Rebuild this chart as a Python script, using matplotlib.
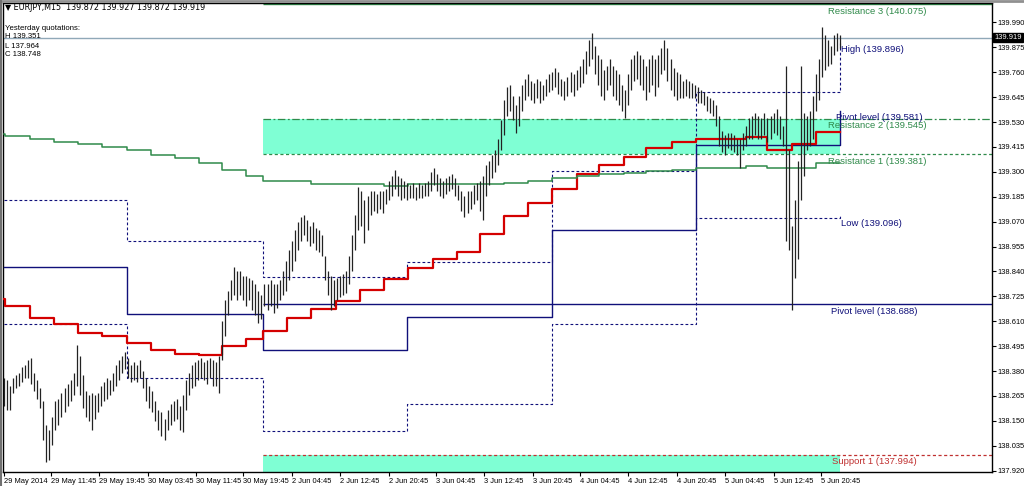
import numpy as np
import matplotlib.pyplot as plt
from matplotlib.transforms import blended_transform_factory

plt.rcParams['font.family'] = ['Liberation Sans', 'DejaVu Sans']

# 30-minute bars, EURJPY (high / low)
bar_high = [
    138.35, 138.34, 138.31, 138.35, 138.36, 138.37, 138.40, 138.41, 138.43, 138.44,
    138.37, 138.34, 138.30, 138.24, 138.13, 138.11, 138.17, 138.24, 138.25, 138.28,
    138.30, 138.32, 138.34, 138.37, 138.50, 138.45, 138.36, 138.29, 138.27, 138.28,
    138.27, 138.28, 138.31, 138.33, 138.35, 138.34, 138.37, 138.41, 138.43, 138.45,
    138.47, 138.44, 138.41, 138.42, 138.41, 138.43, 138.38, 138.35, 138.31, 138.29,
    138.24, 138.20, 138.19, 138.16, 138.20, 138.23, 138.24, 138.25, 138.22, 138.27,
    138.34, 138.37, 138.41, 138.42, 138.43, 138.44, 138.42, 138.43, 138.44, 138.43,
    138.42, 138.45, 138.61, 138.71, 138.75, 138.80, 138.86, 138.84, 138.84, 138.82,
    138.82, 138.81, 138.80, 138.78, 138.75, 138.73, 138.78, 138.78, 138.80, 138.78,
    138.78, 138.80, 138.84, 138.89, 138.94, 138.98, 139.03, 139.07, 139.09, 139.10,
    139.08, 139.05, 139.07, 139.04, 139.03, 139.01, 138.91, 138.84, 138.82, 138.80,
    138.81, 138.82, 138.83, 138.84, 138.91, 139.01, 139.10, 139.23, 139.21, 139.17,
    139.19, 139.21, 139.21, 139.20, 139.21, 139.21, 139.22, 139.26, 139.28, 139.31,
    139.28, 139.27, 139.26, 139.25, 139.24, 139.25, 139.23, 139.25, 139.24, 139.25,
    139.26, 139.30, 139.32, 139.29, 139.27, 139.26, 139.27, 139.28, 139.29, 139.27,
    139.24, 139.21, 139.19, 139.21, 139.21, 139.24, 139.25, 139.26, 139.28, 139.33,
    139.35, 139.38, 139.40, 139.45, 139.54, 139.63, 139.69, 139.70, 139.65, 139.61,
    139.65, 139.70, 139.73, 139.75, 139.72, 139.71, 139.73, 139.72, 139.70, 139.73,
    139.75, 139.76, 139.78, 139.76, 139.73, 139.72, 139.74, 139.76, 139.75, 139.77,
    139.79, 139.82, 139.86, 139.91, 139.94, 139.88, 139.84, 139.82, 139.77, 139.79,
    139.82, 139.79, 139.77, 139.75, 139.70, 139.68, 139.75, 139.82, 139.84, 139.86,
    139.84, 139.82, 139.79, 139.82, 139.84, 139.82, 139.84, 139.87, 139.91, 139.87,
    139.82, 139.78, 139.76, 139.75, 139.72, 139.73, 139.72, 139.71, 139.70, 139.69,
    139.68, 139.67, 139.65, 139.64, 139.63, 139.61, 139.56, 139.49, 139.47, 139.48,
    139.48, 139.47, 139.45, 139.45, 139.48, 139.51, 139.55, 139.56, 139.57, 139.56,
    139.55, 139.57, 139.55, 139.56, 139.57, 139.59, 139.56, 139.51, 139.79, 139.40,
    139.05, 139.17, 139.35, 139.79, 139.57, 139.56, 139.58, 139.65, 139.75, 139.82,
    139.97, 139.93, 139.91, 139.88, 139.93, 139.94, 139.93,
]
bar_low = [
    138.22, 138.20, 138.20, 138.28, 138.30, 138.31, 138.33, 138.35, 138.35, 138.32,
    138.29, 138.25, 138.21, 138.06, 137.96, 137.97, 138.04, 138.11, 138.13, 138.17,
    138.19, 138.22, 138.24, 138.27, 138.31, 138.27, 138.21, 138.17, 138.15, 138.11,
    138.16, 138.19, 138.22, 138.24, 138.25, 138.27, 138.29, 138.31, 138.34, 138.37,
    138.39, 138.35, 138.33, 138.34, 138.33, 138.35, 138.30, 138.24, 138.21, 138.19,
    138.15, 138.11, 138.08, 138.06, 138.11, 138.13, 138.15, 138.16, 138.11, 138.10,
    138.20, 138.27, 138.30, 138.31, 138.34, 138.35, 138.34, 138.32, 138.35, 138.31,
    138.31, 138.28, 138.43, 138.54, 138.64, 138.71, 138.73, 138.71, 138.73, 138.71,
    138.68, 138.71, 138.66, 138.64, 138.60, 138.62, 138.68, 138.66, 138.68, 138.65,
    138.67, 138.71, 138.73, 138.75, 138.80, 138.84, 138.89, 138.94, 138.98, 139.01,
    138.98, 138.96, 138.97, 138.94, 138.93, 138.91, 138.80, 138.73, 138.66, 138.68,
    138.71, 138.72, 138.73, 138.74, 138.78, 138.84, 138.94, 139.03, 139.05, 138.97,
    139.03, 139.10, 139.12, 139.11, 139.13, 139.11, 139.15, 139.17, 139.19, 139.22,
    139.19, 139.17, 139.18, 139.17, 139.18, 139.18, 139.17, 139.18, 139.18, 139.19,
    139.19, 139.21, 139.24, 139.21, 139.19, 139.18, 139.20, 139.21, 139.22, 139.19,
    139.17, 139.12, 139.09, 139.11, 139.13, 139.15, 139.17, 139.12, 139.08, 139.19,
    139.24, 139.27, 139.30, 139.33, 139.40, 139.47, 139.56, 139.58, 139.54, 139.48,
    139.51, 139.58, 139.63, 139.65, 139.63, 139.62, 139.64, 139.62, 139.63, 139.65,
    139.67, 139.68, 139.69, 139.66, 139.65, 139.63, 139.65, 139.67, 139.65, 139.68,
    139.69, 139.71, 139.75, 139.79, 139.82, 139.75, 139.70, 139.65, 139.63, 139.68,
    139.70, 139.65, 139.63, 139.61, 139.58, 139.55, 139.61, 139.68, 139.72, 139.73,
    139.70, 139.68, 139.63, 139.67, 139.70, 139.65, 139.69, 139.75, 139.77, 139.72,
    139.68, 139.65, 139.63, 139.64, 139.64, 139.65, 139.64, 139.64, 139.64, 139.62,
    139.62, 139.61, 139.58, 139.57, 139.56, 139.51, 139.42, 139.39, 139.38, 139.41,
    139.40, 139.39, 139.38, 139.32, 139.40, 139.42, 139.45, 139.45, 139.47, 139.45,
    139.45, 139.47, 139.44, 139.45, 139.48, 139.47, 139.45, 139.42, 138.98, 138.94,
    138.66, 138.81, 138.90, 139.17, 139.28, 139.40, 139.42, 139.45, 139.58, 139.63,
    139.74, 139.77, 139.79, 139.80, 139.84, 139.86, 139.87,
]

# 4-hour step indicators (start of each block, in 30-min bars)
block_start = [0, 0.5, 8.5, 16.5, 24.5, 32.5, 40.5, 48.5, 56.5, 64.5, 72, 80,
               85.5, 93.5, 101.5, 109.5, 117.5, 125.5, 133.5, 141.5, 149.5, 157, 165, 173,
               181, 189, 196.5, 204.5, 212, 220.5, 228.5, 236.5, 245, 252, 260, 268]
red_level = [138.715, 138.682, 138.627, 138.599, 138.558, 138.544, 138.511, 138.479,
             138.460, 138.456, 138.497, 138.530,
             138.567, 138.627, 138.668, 138.705, 138.756, 138.807, 138.858, 138.899,
             138.932, 139.015, 139.094, 139.158, 139.223, 139.288, 139.334, 139.371,
             139.412, 139.440, 139.454, 139.454, 139.463, 139.399, 139.431, 139.486]
green_level = [139.473, 139.468, 139.454, 139.440, 139.427, 139.413, 139.399, 139.380,
               139.362, 139.339, 139.311, 139.279,
               139.256, 139.256, 139.246, 139.246, 139.246, 139.237, 139.242, 139.242,
               139.242, 139.246, 139.251, 139.260, 139.274, 139.283, 139.292, 139.297,
               139.306, 139.311, 139.316, 139.316, 139.325, 139.316, 139.320, 139.339]
now_bar = 276

# daily pivot / high / low
day_start = [0, 40.5, 85.5, 133, 181, 228.5, 276]
day_pivot = [138.862, 138.645, 138.479, 138.631, 139.033, 139.422, 139.581]
day_high = [139.172, 138.983, 138.816, 138.886, 139.306, 139.667, 139.896]
day_low = [138.599, 138.350, 138.105, 138.229, 138.599, 139.089, 139.096]

# weekly levels
week_start = 85.5
r3, r2, r1, w_pivot, s1 = 140.075, 139.545, 139.381, 138.688, 137.994
bid = 139.919

price_ticks = [139.990, 139.875, 139.760, 139.645, 139.530, 139.415, 139.300, 139.185,
               139.070, 138.955, 138.840, 138.725, 138.610, 138.495, 138.380, 138.265,
               138.150, 138.035, 137.920]
time_ticks = [0, 15.5, 31.5, 47.5, 63.5, 79, 95, 111, 127, 142.5, 158.5, 174.5,
              190, 206, 222, 238, 254, 269.5]
time_labels = ["29 May 2014", "29 May 11:45", "29 May 19:45", "30 May 03:45",
               "30 May 11:45", "30 May 19:45", "2 Jun 04:45", "2 Jun 12:45",
               "2 Jun 20:45", "3 Jun 04:45", "3 Jun 12:45", "3 Jun 20:45",
               "4 Jun 04:45", "4 Jun 12:45", "4 Jun 20:45", "5 Jun 04:45",
               "5 Jun 12:45", "5 Jun 20:45"]

fig = plt.figure(figsize=(10.24, 4.86), dpi=100)
ax = fig.add_axes([3 / 1024, 14 / 486, 989 / 1024, 469 / 486])
ax.set_xlim(-0.3, 326.1)
ax.set_ylim(137.914, 140.080)

navy = '#10107a'
green = '#2f8a4a'
aqua = '#7fffd4'

# weekly zones
ax.fill_between([week_start, now_bar], r1, r2, color=aqua, lw=0, zorder=1)
ax.fill_between([week_start, now_bar], 137.80, s1, color=aqua, lw=0, zorder=1)

# weekly level lines
ax.hlines(r3, week_start, 326.1, color=green, lw=1.0, zorder=2)
ax.hlines(r2, week_start, 326.1, color=green, lw=0.9, linestyles=(0, (6, 2, 1.5, 2)), zorder=2)
ax.hlines(r1, week_start, 326.1, color=green, lw=0.9, linestyles=(0, (2.5, 2)), zorder=2)
ax.hlines(w_pivot, week_start, 326.1, color=navy, lw=1.0, zorder=2)
ax.hlines(s1, week_start, 326.1, color='#c03030', lw=0.9, linestyles=(0, (2.5, 2)), zorder=2)

# bid line
ax.axhline(bid, color='#90a8b8', lw=1.0, zorder=2)

# daily lines
ax.step(day_start, day_pivot, where='post', color=navy, lw=1.0, zorder=3)
ax.step(day_start, day_high, where='post', color=navy, lw=0.8, ls=(0, (2.5, 2)), zorder=3)
ax.step(day_start, day_low, where='post', color=navy, lw=0.8, ls=(0, (2.5, 2)), zorder=3)

# 4h step lines
bx = block_start + [now_bar]
ax.step(bx, red_level + [red_level[-1]], where='post', color='#d40000', lw=1.6, zorder=4)
ax.step(bx, green_level + [green_level[-1]], where='post', color=green, lw=1.1, zorder=4)

# price bars
x = np.arange(len(bar_high))
ax.vlines(x, bar_low, bar_high, color='#222222', lw=0.9, zorder=5)

# level labels
lab = dict(fontsize=6.8, va='top', zorder=6)
ax.text(272, r3 - 0.012, "Resistance 3 (140.075)", color=green, **lab)
ax.text(276.3, 139.896 - 0.012, "High (139.896)", color=navy, **lab)
ax.text(274.6, 139.581 - 0.010, "Pivot level (139.581)", color=navy, **lab)
ax.text(272, r2 - 0.012, "Resistance 2 (139.545)", color=green, **lab)
ax.text(272, r1 - 0.012, "Resistance 1 (139.381)", color=green, **lab)
ax.text(276.3, 139.096 - 0.012, "Low (139.096)", color=navy, **lab)
ax.text(273, w_pivot - 0.012, "Pivot level (138.688)", color=navy, **lab)
ax.text(273.3, s1 - 0.012, "Support 1 (137.994)", color='#c03030', **lab)

# axes styling
for sp in ax.spines.values():
    sp.set_color('black')
    sp.set_linewidth(1.0)
ax.yaxis.tick_right()
ax.set_yticks(price_ticks)
ax.set_yticklabels([f"{p:.3f}" for p in price_ticks])
ax.set_xticks(time_ticks)
ax.set_xticklabels(time_labels)
ax.tick_params(axis='both', length=3, width=0.8, labelsize=5.4, pad=1.2, colors='black')
for t in ax.get_xticklabels():
    t.set_ha('left')

tr = blended_transform_factory(ax.transAxes, ax.transData)
ax.text(1.002, bid, "139.919", transform=tr, color='white', fontsize=5.4, va='center',
        ha='left', bbox=dict(boxstyle='square,pad=0.15', fc='black', ec='black'), zorder=7)

# header text
fig.text(5 / 1024, 1 - 8 / 486, "\u25bc EURJPY,M15  139.872 139.927 139.872 139.919",
         fontsize=5.8, va='center', ha='left', family=['DejaVu Sans'])
for i, s in enumerate(["Yesterday quotations:", "H 139.351", "L 137.964", "C 138.748"]):
    fig.text(5 / 1024, 1 - (28 + 9 * i) / 486, s, fontsize=5.6, va='center', ha='left')

# window border
fig.add_artist(plt.Line2D([0, 1], [1 - 1 / 486, 1 - 1 / 486], transform=fig.transFigure,
                          color='#909090', lw=2))
fig.add_artist(plt.Line2D([1 / 1024, 1 / 1024], [0, 1], transform=fig.transFigure,
                          color='#707070', lw=1.5))

fig.savefig('out.png', dpi=100, facecolor='white')
